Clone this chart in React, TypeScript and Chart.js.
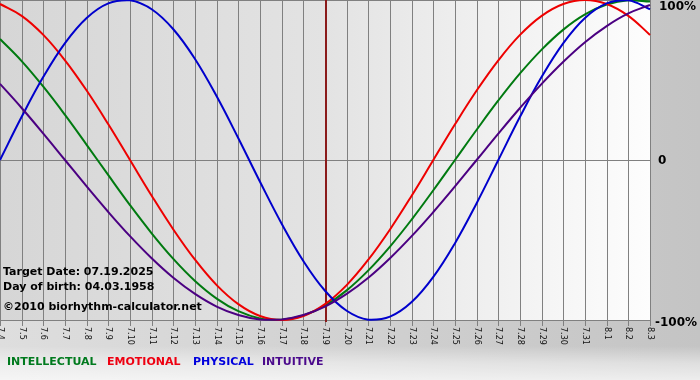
import React, { useEffect, useRef } from "react";
import { Chart, registerables } from "chart.js";

Chart.register(...registerables);

const dayLabels = [
  "7.4", "7.5", "7.6", "7.7", "7.8", "7.9", "7.10", "7.11", "7.12", "7.13",
  "7.14", "7.15", "7.16", "7.17", "7.18", "7.19", "7.20", "7.21", "7.22", "7.23",
  "7.24", "7.25", "7.26", "7.27", "7.28", "7.29", "7.30", "7.31", "8.1", "8.2", "8.3",
];

const intellectual = [
  0.756, 0.618, 0.458, 0.282, 0.095, -0.095, -0.282, -0.458, -0.618, -0.756,
  -0.866, -0.945, -0.990, -0.999, -0.972, -0.910, -0.815, -0.690, -0.541, -0.372,
  -0.189, 0.0, 0.189, 0.372, 0.541, 0.690, 0.815, 0.910, 0.972, 0.999, 0.990,
];

const emotional = [
  0.975, 0.901, 0.782, 0.623, 0.434, 0.223, 0.0, -0.223, -0.434, -0.623,
  -0.782, -0.901, -0.975, -1.0, -0.975, -0.901, -0.782, -0.623, -0.434, -0.223,
  0.0, 0.223, 0.434, 0.623, 0.782, 0.901, 0.975, 1.0, 0.975, 0.901, 0.782,
];

const physical = [
  0.0, 0.270, 0.520, 0.731, 0.888, 0.979, 0.998, 0.942, 0.817, 0.631,
  0.398, 0.136, -0.136, -0.398, -0.631, -0.817, -0.942, -0.998, -0.979, -0.888,
  -0.731, -0.520, -0.270, 0.0, 0.270, 0.520, 0.731, 0.888, 0.979, 0.998, 0.942,
];

const intuitive = [
  0.476, 0.325, 0.165, 0.0, -0.165, -0.325, -0.476, -0.614, -0.736, -0.837,
  -0.916, -0.969, -0.997, -0.997, -0.969, -0.916, -0.837, -0.736, -0.614, -0.476,
  -0.325, -0.165, 0.0, 0.165, 0.325, 0.476, 0.614, 0.736, 0.837, 0.916, 0.969,
];

const yTickValues = [1, 0, -1];
const yTickLabels = ["100%", "0", "-100%"];
const targetDay = "7.19";
const infoLines = [
  "Target Date: 07.19.2025",
  "Day of birth: 04.03.1958",
  "\u00A92010 biorhythm-calculator.net",
];
const legendNames = ["INTELLECTUAL", "EMOTIONAL", "PHYSICAL", "INTUITIVE"];
const legendColors = ["#007a1e", "#ee0011", "#0000dd", "#4b0a8c"];
const lineColors = ["#007a10", "#ee0000", "#0000cc", "#4b0082"];

const BOLD = "bold 11px 'DejaVu Sans', Verdana, sans-serif";
const BOLD_R = "bold 12px 'DejaVu Sans', Verdana, sans-serif";

const decorPlugin = {
  id: "decor",
  beforeDraw(chart: any) {
    const { ctx, chartArea: a } = chart;
    const xs = chart.scales.x;
    const ys = chart.scales.y;
    const W = chart.width;
    const H = chart.height;
    ctx.save();
    let g = ctx.createLinearGradient(0, 0, W, 0);
    g.addColorStop(0, "#dedede");
    g.addColorStop(1, "#c4c4c4");
    ctx.fillStyle = g;
    ctx.fillRect(0, 0, W, H);
    const gb = ctx.createLinearGradient(0, 346, 0, H);
    gb.addColorStop(0, "rgba(255,255,255,0)");
    gb.addColorStop(0.5, "rgba(255,255,255,0.45)");
    gb.addColorStop(1, "rgba(255,255,255,0.7)");
    ctx.fillStyle = gb;
    ctx.fillRect(0, 346, W, H - 346);
    const gp = ctx.createLinearGradient(a.left, 0, a.right, 0);
    gp.addColorStop(0, "#d6d6d6");
    gp.addColorStop(0.5, "#e3e3e3");
    gp.addColorStop(1, "#fdfdfd");
    ctx.fillStyle = gp;
    ctx.fillRect(a.left, a.top, a.right - a.left + 1, a.bottom - a.top + 1);
    ctx.strokeStyle = "#808080";
    ctx.lineWidth = 1;
    ctx.beginPath();
    dayLabels.forEach((_, i) => {
      const px = Math.round(xs.getPixelForValue(i)) + 0.5;
      ctx.moveTo(px, a.top);
      ctx.lineTo(px, a.bottom + 6);
    });
    ctx.stroke();
    ctx.beginPath();
    yTickValues.forEach((v) => {
      const py = Math.round(ys.getPixelForValue(v)) + 0.5;
      ctx.moveTo(a.left, py);
      ctx.lineTo(a.right + 1, py);
    });
    ctx.stroke();
    ctx.restore();
  },
  beforeDatasetsDraw(chart: any) {
    const { ctx, chartArea: a } = chart;
    const xs = chart.scales.x;
    const idx = dayLabels.indexOf(targetDay);
    const px = Math.round(xs.getPixelForValue(idx)) + 1;
    ctx.save();
    ctx.strokeStyle = "#8a1a1a";
    ctx.lineWidth = 2;
    ctx.beginPath();
    ctx.moveTo(px, a.top);
    ctx.lineTo(px, a.bottom + 2);
    ctx.stroke();
    ctx.restore();
  },
  afterDatasetsDraw(chart: any) {
    const { ctx, chartArea: a } = chart;
    const xs = chart.scales.x;
    const ys = chart.scales.y;
    ctx.save();
    ctx.fillStyle = "#111";
    ctx.font = "8px 'DejaVu Sans', Verdana, sans-serif";
    ctx.textAlign = "left";
    ctx.textBaseline = "middle";
    dayLabels.forEach((l, i) => {
      const px = Math.round(xs.getPixelForValue(i)) + 0.5;
      ctx.save();
      ctx.translate(px, a.bottom + 7);
      ctx.rotate(Math.PI / 2);
      ctx.fillText(l, 0, 0);
      ctx.restore();
    });
    ctx.font = BOLD_R;
    ctx.fillStyle = "#000";
    ctx.textBaseline = "middle";
    ctx.textAlign = "left";
    const rx = [659, 658, 655];
    yTickValues.forEach((v, i) => {
      let py = ys.getPixelForValue(v);
      if (v === 1) py += 6;
      if (v === -1) py += 2;
      ctx.fillText(yTickLabels[i], rx[i], py + 1);
    });
    ctx.font = BOLD;
    const iy = [272, 287.5, 307];
    infoLines.forEach((t, i) => ctx.fillText(t, 3, iy[i]));
    const lx = [7, 107, 193, 262];
    legendNames.forEach((t, i) => {
      ctx.fillStyle = legendColors[i];
      ctx.fillText(t, lx[i], 362);
    });
    ctx.restore();
  },
};

export default function App() {
  const ref = useRef<HTMLCanvasElement | null>(null);
  useEffect(() => {
    if (!ref.current) return;
    const mk = (label: string, data: number[], color: string, order: number) => ({
      label,
      data,
      borderColor: color,
      backgroundColor: color,
      borderWidth: 2,
      pointRadius: 0,
      tension: 0.4,
      fill: false,
      clip: false as any,
      order,
    });
    const chart = new Chart(ref.current, {
      type: "line",
      data: {
        labels: dayLabels,
        datasets: [
          mk(legendNames[0], intellectual, lineColors[0], 3),
          mk(legendNames[1], emotional, lineColors[1], 2),
          mk(legendNames[2], physical, lineColors[2], 1),
          mk(legendNames[3], intuitive, lineColors[3], 0),
        ],
      },
      options: {
        responsive: false,
        animation: false,
        devicePixelRatio: 1,
        layout: { padding: { left: 0, right: 50, top: 0, bottom: 60 } },
        plugins: { legend: { display: false }, tooltip: { enabled: false } },
        scales: {
          x: { type: "category", display: false, offset: false },
          y: { type: "linear", display: false, min: -1, max: 1 },
        },
      },
      plugins: [decorPlugin],
    });
    return () => chart.destroy();
  }, []);
  return (
    <div style={{ position: "fixed", left: 0, top: 0, width: 700, height: 380 }}>
      <canvas ref={ref} width={700} height={380} style={{ display: "block" }} />
    </div>
  );
}
